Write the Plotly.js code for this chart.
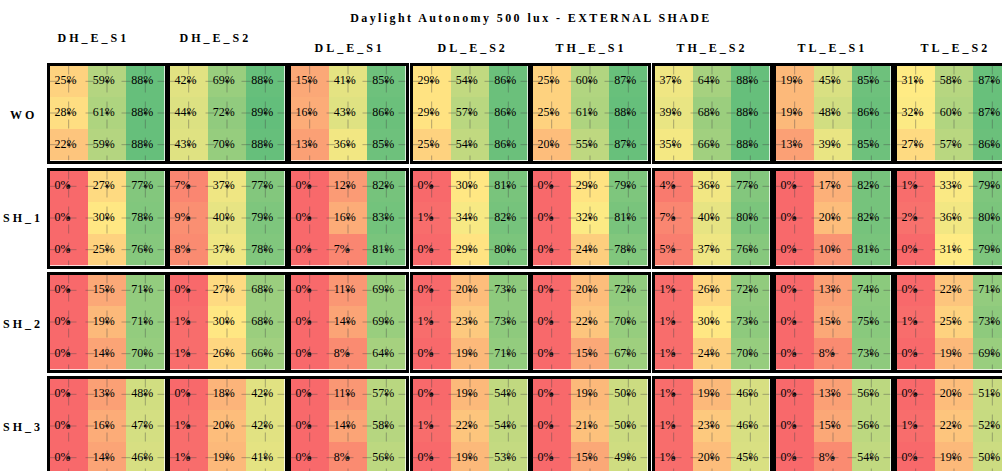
<!DOCTYPE html>
<html>
<head>
<meta charset="utf-8">
<script src="https://cdn.plot.ly/plotly-3.0.1.min.js"></script>
<style>
html, body { margin: 0; padding: 0; background: #fff; overflow: hidden; width: 1002px; height: 471px; }
#chart { width: 1030px; height: 485px; }
</style>
</head>
<body>
<div id="chart"></div>
<script>
// ---- DATA ----
const titleText = 'Daylight Autonomy 500 lux - EXTERNAL SHADE';
const panelNames = ['DH_E_S1', 'DH_E_S2', 'DL_E_S1', 'DL_E_S2', 'TH_E_S1', 'TH_E_S2', 'TL_E_S1', 'TL_E_S2'];
const groupNames = ['WO', 'SH_1', 'SH_2', 'SH_3'];

// each group: 8 panels (in panelNames order), each panel 3 rows x 3 columns (%)
const WO = [
  [[25, 59, 88], [28, 61, 88], [22, 59, 88]],
  [[42, 69, 88], [44, 72, 89], [43, 70, 88]],
  [[15, 41, 85], [16, 43, 86], [13, 36, 85]],
  [[29, 54, 86], [29, 57, 86], [25, 54, 86]],
  [[25, 60, 87], [25, 61, 88], [20, 55, 87]],
  [[37, 64, 88], [39, 68, 88], [35, 66, 88]],
  [[19, 45, 85], [19, 48, 86], [13, 39, 85]],
  [[31, 58, 87], [32, 60, 87], [27, 57, 86]]
];
const SH_1 = [
  [[0, 27, 77], [0, 30, 78], [0, 25, 76]],
  [[7, 37, 77], [9, 40, 79], [8, 37, 78]],
  [[0, 12, 82], [0, 16, 83], [0, 7, 81]],
  [[0, 30, 81], [1, 34, 82], [0, 29, 80]],
  [[0, 29, 79], [0, 32, 81], [0, 24, 78]],
  [[4, 36, 77], [7, 40, 80], [5, 37, 76]],
  [[0, 17, 82], [0, 20, 82], [0, 10, 81]],
  [[1, 33, 79], [2, 36, 80], [0, 31, 79]]
];
const SH_2 = [
  [[0, 15, 71], [0, 19, 71], [0, 14, 70]],
  [[0, 27, 68], [1, 30, 68], [1, 26, 66]],
  [[0, 11, 69], [0, 14, 69], [0, 8, 64]],
  [[0, 20, 73], [1, 23, 73], [0, 19, 71]],
  [[0, 20, 72], [0, 22, 70], [0, 15, 67]],
  [[1, 26, 72], [1, 30, 73], [1, 24, 70]],
  [[0, 13, 74], [0, 15, 75], [0, 8, 73]],
  [[0, 22, 71], [1, 25, 73], [0, 19, 69]]
];
const SH_3 = [
  [[0, 13, 48], [0, 16, 47], [0, 14, 46]],
  [[0, 18, 42], [1, 20, 42], [1, 19, 41]],
  [[0, 11, 57], [0, 14, 58], [0, 8, 56]],
  [[0, 19, 54], [1, 22, 54], [0, 19, 53]],
  [[0, 19, 50], [0, 21, 50], [0, 15, 49]],
  [[1, 19, 46], [1, 23, 46], [1, 20, 45]],
  [[0, 13, 56], [0, 15, 56], [0, 8, 54]],
  [[0, 20, 51], [1, 22, 52], [0, 19, 50]]
];
const groups = [WO, SH_1, SH_2, SH_3];
const cellCols = [0, 1, 2];
const cellRows = [0, 1, 2];

// ---- LAYOUT (pixel geometry) ----
const W = 1030, H = 485;
const colX0 = [48, 168, 289, 411, 531, 653, 774, 895];
const panelW = 118;
const rowY0 = [64, 169, 273, 377];
const panelH = 98;
const colLabelX = [93, 215, 349, 472, 591, 712, 832, 955];
const colLabelY = [38, 38, 48, 48, 48, 48, 48, 48];
const rowLabelX = 23;
const rowLabelY = [115, 218, 324, 427];

const colorscale = [[0, '#f8696b'], [31 / 89, '#ffeb84'], [1, '#63be7b']];
const zmin = 0, zmax = 89;

const traces = [];
const layout = {
  width: W, height: H,
  margin: {l: 0, r: 0, t: 0, b: 0},
  paper_bgcolor: '#ffffff',
  plot_bgcolor: '#ffffff',
  showlegend: false,
  title: {
    text: titleText,
    font: {family: 'Liberation Serif', size: 12, color: '#000', weight: 'bold'},
    x: 531 / W, xanchor: 'center', xref: 'container',
    y: 1 - 18 / H, yanchor: 'middle', yref: 'container'
  },
  annotations: [],
  shapes: []
};

let idx = 0;
groups.forEach((grp, r) => {
  grp.forEach((panel, c) => {
    idx += 1;
    const sx = idx === 1 ? '' : String(idx);
    const xa = 'x' + sx, ya = 'y' + sx;
    layout['xaxis' + sx] = {
      domain: [(colX0[c] + 1.5) / W, (colX0[c] + panelW - 1.5) / W],
      range: [-0.5, 2.5], fixedrange: true,
      showticklabels: false, ticks: '', showgrid: false, zeroline: false,
      showline: true, linecolor: '#000', linewidth: 3, mirror: true,
      anchor: ya
    };
    layout['yaxis' + sx] = {
      domain: [1 - (rowY0[r] + panelH - 1.5) / H, 1 - (rowY0[r] + 1.5) / H],
      range: [2.5, -0.5], fixedrange: true,
      showticklabels: false, ticks: '', showgrid: false, zeroline: false,
      showline: true, linecolor: '#000', linewidth: 3, mirror: true,
      anchor: xa
    };
    traces.push({
      type: 'heatmap', z: panel, x: cellCols, y: cellRows,
      colorscale: colorscale, zmin: zmin, zmax: zmax, showscale: false,
      hoverinfo: 'skip', xaxis: xa, yaxis: ya
    });
    const px = [], py = [], tx = [], txt = [];
    panel.forEach((row, i) => row.forEach((v, j) => {
      px.push(cellCols[j]); py.push(cellRows[i]);
      tx.push(cellCols[j] - 0.5 + 0.13);
      txt.push(v + '%');
    }));
    traces.push({
      type: 'scatter', mode: 'text', x: tx, y: py, text: txt,
      textposition: 'middle right',
      textfont: {family: 'Liberation Serif', size: 12, color: '#000'},
      hoverinfo: 'skip', xaxis: xa, yaxis: ya
    });
    traces.push({
      type: 'scatter', mode: 'markers', x: px, y: py,
      marker: {size: 3, color: '#000'},
      hoverinfo: 'skip', xaxis: xa, yaxis: ya
    });
    cellCols.forEach(k => {
      layout.shapes.push({type: 'line', xref: xa, yref: ya, x0: k, x1: k, y0: -0.5, y1: 2.5,
        line: {color: 'rgba(70,70,70,0.4)', width: 1, dash: 'dash'}, layer: 'above'});
    });
    cellRows.forEach(k => {
      layout.shapes.push({type: 'line', xref: xa, yref: ya, x0: -0.5, x1: 2.5, y0: k, y1: k,
        line: {color: 'rgba(70,70,70,0.4)', width: 1, dash: 'dash'}, layer: 'above'});
    });
  });
});

panelNames.forEach((name, c) => {
  layout.annotations.push({
    text: name, xref: 'paper', yref: 'paper',
    x: colLabelX[c] / W, y: 1 - colLabelY[c] / H,
    xanchor: 'center', yanchor: 'middle', showarrow: false,
    font: {family: 'Liberation Serif', size: 12, color: '#000', weight: 'bold'}
  });
});
groupNames.forEach((name, r) => {
  layout.annotations.push({
    text: name, xref: 'paper', yref: 'paper',
    x: rowLabelX / W, y: 1 - rowLabelY[r] / H,
    xanchor: 'center', yanchor: 'middle', showarrow: false,
    font: {family: 'Liberation Serif', size: 12, color: '#000', weight: 'bold'}
  });
});

Plotly.newPlot('chart', traces, layout, {staticPlot: true, displayModeBar: false}).then(() => {
  document.querySelectorAll('.annotation-text').forEach(el => { el.style.letterSpacing = '3px'; });
  document.querySelectorAll('.gtitle').forEach(el => { el.style.letterSpacing = '2.4px'; });
});
</script>
</body>
</html>
